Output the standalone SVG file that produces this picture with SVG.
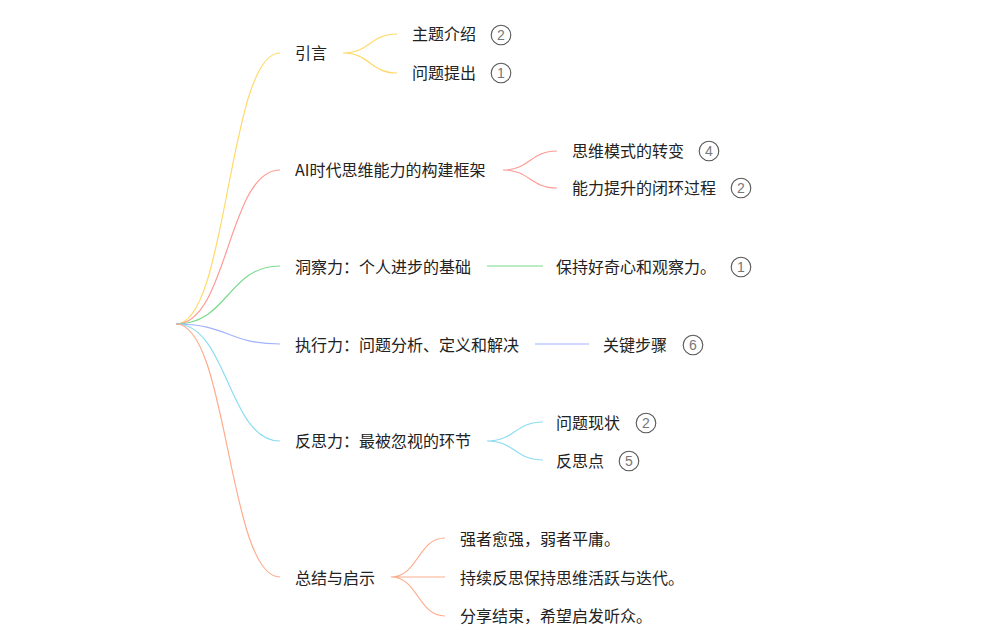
<svg xmlns="http://www.w3.org/2000/svg" width="998" height="641" viewBox="0 0 998 641">
<style>
.t{font-family:"Noto Sans CJK SC","Noto Sans",sans-serif;font-size:16px;fill:#222}
.l{fill:none;stroke-width:1.2}
.b circle{fill:none;stroke:#555;stroke-width:1.1}
.b text{font-family:"Liberation Sans",sans-serif;font-size:14px;fill:#777;text-anchor:middle}
.y{stroke:#FFD966}.r{stroke:#FF9A94}.g{stroke:#79DB8C}.u{stroke:#A2B2FF}.c{stroke:#8CDDF2}.o{stroke:#FFAB8C}
</style>
<rect width="998" height="641" fill="#fff"/>
<g id="connectors">
<path class="l y" d="M176,324 C228,324 228,53 280,53"/>
<path class="l r" d="M176,324 C228,324 228,170 280,170"/>
<path class="l g" d="M176,324 C228,324 228,266 280,266"/>
<path class="l u" d="M176,324 C228,324 228,344 280,344"/>
<path class="l c" d="M176,324 C228,324 228,441 280,441"/>
<path class="l o" d="M176,324 C228,324 228,577 280,577"/>
<path class="l y" d="M343,53 C370,53 370,34 397,34 M343,53 C370,53 370,73 397,73"/>
<path class="l r" d="M503,170 C530,170 530,151 557,151 M503,170 C530,170 530,188 557,188"/>
<path class="l g" d="M487,266 L543,266"/>
<path class="l u" d="M535,344 L589,344"/>
<path class="l c" d="M487,441 C515,441 515,422 543,422 M487,441 C515,441 515,460 543,460"/>
<path class="l o" d="M391,577 C418,577 418,538 445,538 M391,577 L445,577 M391,577 C418,577 418,616 445,616"/>
</g>
<g id="n1"><text class="t" x="295" y="59">引言</text></g>
<g id="n1a"><text class="t" x="412" y="40">主题介绍</text><g class="b"><circle cx="501" cy="35" r="9.8"/><text x="501" y="40">2</text></g></g>
<g id="n1b"><text class="t" x="412" y="79">问题提出</text><g class="b"><circle cx="501" cy="73" r="9.8"/><text x="501" y="78">1</text></g></g>
<g id="n2"><text class="t" x="295" y="176">AI时代思维能力的构建框架</text></g>
<g id="n2a"><text class="t" x="572" y="157">思维模式的转变</text><g class="b"><circle cx="709" cy="151" r="9.8"/><text x="709" y="156">4</text></g></g>
<g id="n2b"><text class="t" x="572" y="194">能力提升的闭环过程</text><g class="b"><circle cx="741" cy="188" r="9.8"/><text x="741" y="193">2</text></g></g>
<g id="n3"><text class="t" x="295" y="273">洞察力：个人进步的基础</text></g>
<g id="n3a"><text class="t" x="556" y="273">保持好奇心和观察力。</text><g class="b"><circle cx="741" cy="267" r="9.8"/><text x="741" y="272">1</text></g></g>
<g id="n4"><text class="t" x="295" y="351">执行力：问题分析、定义和解决</text></g>
<g id="n4a"><text class="t" x="603" y="351">关键步骤</text><g class="b"><circle cx="693" cy="345" r="9.8"/><text x="693" y="350">6</text></g></g>
<g id="n5"><text class="t" x="295" y="447">反思力：最被忽视的环节</text></g>
<g id="n5a"><text class="t" x="556" y="429">问题现状</text><g class="b"><circle cx="646" cy="423" r="9.8"/><text x="646" y="428">2</text></g></g>
<g id="n5b"><text class="t" x="556" y="467">反思点</text><g class="b"><circle cx="629" cy="461" r="9.8"/><text x="629" y="466">5</text></g></g>
<g id="n6"><text class="t" x="295" y="584">总结与启示</text></g>
<g id="n6a"><text class="t" x="460" y="545">强者愈强，弱者平庸。</text></g>
<g id="n6b"><text class="t" x="460" y="584">持续反思保持思维活跃与迭代。</text></g>
<g id="n6c"><text class="t" x="460" y="622">分享结束，希望启发听众。</text></g>
</svg>
